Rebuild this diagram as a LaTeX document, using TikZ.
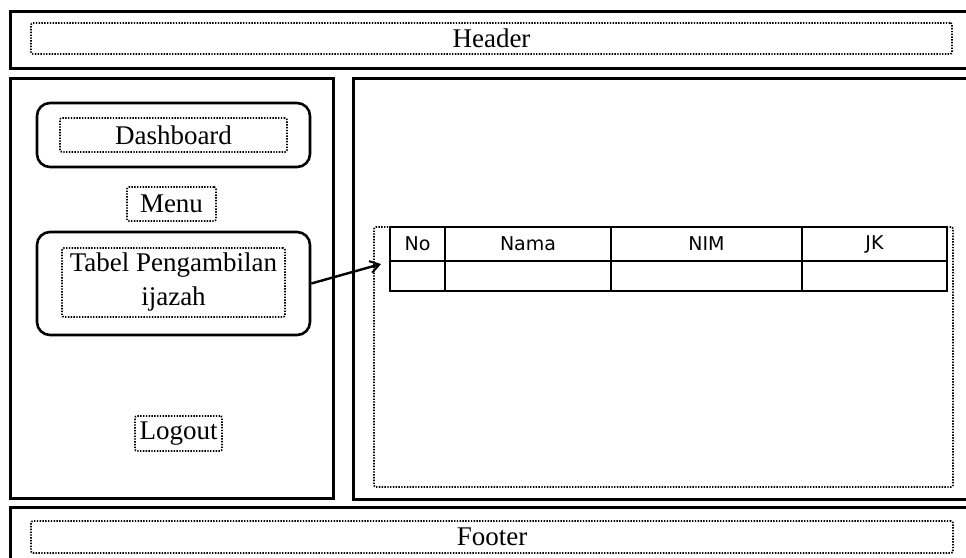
\documentclass[tikz,border=0pt]{standalone}
\usepackage{fontspec}
\setmainfont{Liberation Serif}
\newfontfamily\tablefont{DejaVu Sans}
\usetikzlibrary{arrows.meta}

\begin{document}
\begin{tikzpicture}[x=1pt,y=-1pt,
  panel/.style={draw, line width=3pt, inner sep=0pt},
  menubox/.style={draw, line width=2.6pt, rounded corners=13pt, inner sep=0pt},
  dotbox/.style={draw, line width=1.7pt, dash pattern=on 1.4pt off 1.4pt,
    rounded corners=2pt, inner sep=0pt, font=\fontsize{27}{30}\selectfont, align=center},
  cell/.style={draw, line width=1.6pt, inner sep=0pt, font=\tablefont\fontsize{19}{22}\selectfont},
  link/.style={line width=2.4pt, -{Straight Barb[length=9pt,width=12pt,line width=2pt]}}
]
\useasboundingbox (0,0) rectangle (966,557);
\clip (0,0) rectangle (966,557);

% page frame: header, sidebar, content, footer
\node[panel, minimum width=970pt, minimum height=57pt] (headerframe) at (495,39.5) {};
\node[dotbox, minimum width=921pt, minimum height=31pt] (header) at (491.5,38.5) {Header};

\node[panel, minimum width=323pt, minimum height=420pt] (sidebar) at (171.5,288) {};
\node[panel, minimum width=627pt, minimum height=421pt] (main) at (666.5,288.5) {};

\node[panel, minimum width=970pt, minimum height=68pt] (footerframe) at (495,541) {};
\node[dotbox, minimum width=922pt, minimum height=32pt] (footer) at (492,537) {Footer};

% sidebar menu
\node[menubox, minimum width=273pt, minimum height=64pt] (dashbtn) at (173.5,135) {};
\node[dotbox, minimum width=227pt, minimum height=34pt] (dashboard) at (173.5,135) {Dashboard};

\node[dotbox, minimum width=89pt, minimum height=34pt] (menu) at (171.5,204) {Menu};

\node[menubox, minimum width=273pt, minimum height=103pt] (tabelbtn) at (173.5,283.5) {};
\node[dotbox, minimum width=223pt, minimum height=69pt, font=\fontsize{27}{34}\selectfont]
  (tabel) at (173.5,282.5) {Tabel Pengambilan\\ijazah};

\node[dotbox, minimum width=87pt, minimum height=35pt] (logout) at (178.5,433.5) {Logout};

% content area with the data table
\node[dotbox, minimum width=579pt, minimum height=260pt] (content) at (663.5,357) {};

\node[cell, minimum width=55pt,  minimum height=34pt] (hno)   at (417.5,244) {No};
\node[cell, minimum width=166pt, minimum height=34pt] (hnama) at (528,244)   {Nama};
\node[cell, minimum width=191pt, minimum height=34pt] (hnim)  at (706.5,244) {NIM};
\node[cell, minimum width=145pt, minimum height=34pt] (hjk)   at (874.5,244) {JK};
\node[cell, minimum width=55pt,  minimum height=30pt] (rno)   at (417.5,276) {};
\node[cell, minimum width=166pt, minimum height=30pt] (rnama) at (528,276)   {};
\node[cell, minimum width=191pt, minimum height=30pt] (rnim)  at (706.5,276) {};
\node[cell, minimum width=145pt, minimum height=30pt] (rjk)   at (874.5,276) {};

% link from the menu entry to the table
\coordinate (target) at (381,264);
\draw[link] (tabelbtn.east) -- (target);
\end{tikzpicture}
\end{document}
